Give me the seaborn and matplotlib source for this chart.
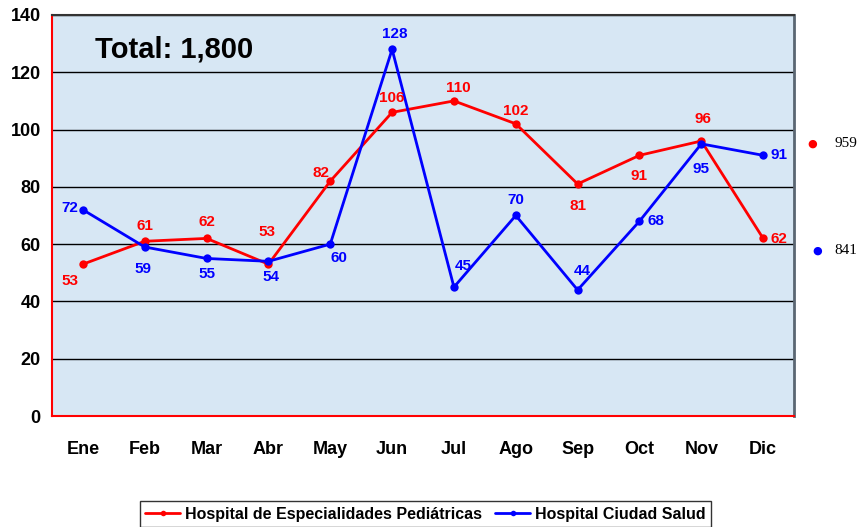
import matplotlib
matplotlib.use("Agg")
from matplotlib import pyplot as plt
import numpy as np
import pandas as pd
import seaborn as sns

months = ['Ene', 'Feb', 'Mar', 'Abr', 'May', 'Jun', 'Jul', 'Ago', 'Sep', 'Oct', 'Nov', 'Dic']
pediatricas = [53, 61, 62, 53, 82, 106, 110, 102, 81, 91, 96, 62]
ciudad_salud = [72, 59, 55, 54, 60, 128, 45, 70, 44, 68, 95, 91]
series_names = ['Hospital de Especialidades Pediátricas', 'Hospital Ciudad Salud']
total_label = 'Total: 1,800'

# label offsets in points (dx, dy)
off_red = [(-9, -12), (0, 11), (0, 11.5), (-1, 23), (-6.5, 6), (0, 10), (3, 9.5), (0, 9.5),
           (0, -16), (0, -15), (1.5, 16), (11.5, -0.5)]
off_blue = [(-9.5, 1.5), (-1.5, -16), (0, -11), (1.5, -11.5), (6.5, -10), (2, 11), (7, 15),
            (0, 11), (3, 14), (12, 0), (0, -18), (11.5, 0)]

sns.set_style("white")
plt.rcParams['font.family'] = ['Liberation Sans', 'DejaVu Sans']
plt.rcParams['text.color'] = 'black'

df = pd.DataFrame({
    'mes': months * 2,
    'valor': pediatricas + ciudad_salud,
    'hospital': [series_names[0]] * 12 + [series_names[1]] * 12,
})

fig = plt.figure(figsize=(8.62, 5.27), dpi=100)
ax = fig.add_axes([0.0603, 0.2106, 0.8609, 0.761])
ax.set_facecolor('#d7e7f4')

sns.lineplot(data=df, x='mes', y='valor', hue='hospital', sort=False,
             palette=['#ff0000', '#0000ff'], marker='o', markersize=6,
             markeredgewidth=0, linewidth=2, ax=ax)

ax.set_xlim(-0.5, 11.5)
ax.set_ylim(0, 140)
ax.set_yticks(range(0, 141, 20))
ax.set_xticks(range(12))
ax.set_xticks(np.arange(-0.5, 12, 1), minor=True)
ax.tick_params(axis='x', which='major', length=0, pad=18, labelcolor='black')
ax.tick_params(axis='x', which='minor', length=6, color='red', width=1.2, direction='out')
ax.tick_params(axis='y', length=5, color='red', width=1.2, direction='out', pad=3,
               labelcolor='black')
for lab in ax.get_xticklabels() + ax.get_yticklabels():
    lab.set_fontweight('bold')
    lab.set_fontsize(13)
ax.set_xlabel('')
ax.set_ylabel('')
ax.grid(axis='y', color='black', linewidth=1)
ax.set_axisbelow(True)

for s in ['left', 'bottom']:
    ax.spines[s].set_color('red')
    ax.spines[s].set_linewidth(1.5)
ax.spines['top'].set_color('#333333')
ax.spines['top'].set_linewidth(1.5)
ax.spines['right'].set_color('#5a6672')
ax.spines['right'].set_linewidth(2)

for i, (v, o) in enumerate(zip(pediatricas, off_red)):
    ax.annotate(str(v), (i, v), xytext=o, textcoords='offset points',
                ha='center', va='center', color='red', fontsize=11, fontweight='bold')
for i, (v, o) in enumerate(zip(ciudad_salud, off_blue)):
    ax.annotate(str(v), (i, v), xytext=o, textcoords='offset points',
                ha='center', va='center', color='blue', fontsize=11, fontweight='bold')

ax.text(0.058, 0.915, total_label, transform=ax.transAxes, fontsize=21,
        fontweight='bold', va='center', ha='left', color='black')

# totals at the right side
fig.text(0.942, 0.728, '●', color='red', fontsize=8, ha='center', va='center',
         family=['DejaVu Sans'])
fig.text(0.968, 0.728, str(sum(pediatricas)), fontsize=11, ha='left', va='center',
         family=['Liberation Serif'])
fig.text(0.948, 0.525, '●', color='blue', fontsize=8, ha='center', va='center',
         family=['DejaVu Sans'])
fig.text(0.968, 0.525, str(sum(ciudad_salud)), fontsize=11, ha='left', va='center',
         family=['Liberation Serif'])

handles, labels = ax.get_legend_handles_labels()
ax.legend_.remove()
leg = fig.legend(handles, labels, loc='upper center', bbox_to_anchor=(0.4935, 0.064),
                 ncol=2, frameon=True, fancybox=False, edgecolor='black',
                 prop={'weight': 'bold', 'size': 11.5}, handlelength=2.2,
                 handletextpad=0.3, columnspacing=0.8, borderpad=0.35)
leg.get_frame().set_linewidth(1)
for h in leg.legend_handles:
    h.set_markersize(4)

fig.savefig('out.png', dpi=100)
